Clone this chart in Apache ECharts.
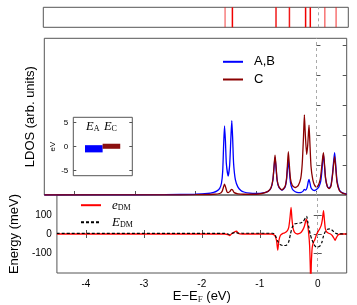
<!DOCTYPE html>
<html><head><meta charset="utf-8">
<script src="https://cdn.jsdelivr.net/npm/echarts@6/dist/echarts.min.js"></script>
<style>html,body{margin:0;padding:0;background:#fff}#c{width:357px;height:305px}</style>
</head><body><div id="c"></div>
<script>
// ---------- data ----------
const xTicks = [-4, -3, -2, -1, 0];
const ldosTicks = [1, 2, 3, 4, 5];
const energyTicks = [-100, 0, 100];
const insetTicks = [-5, 0, 5];

// top strip: level positions (eV) and their intensity
const stripLines = [-1.52, -1.40, -0.685, -0.465, -0.20, -0.123, 0.115, 0.30];
const stripWeight = [0.5, 1, 0.9, 0.9, 1, 1, 0.55, 0.55];

// LDOS on A,B sites  [E-EF (eV), LDOS]
const ldosAB = [[-4.5,0.0],[-3.5,0.005],[-2.5,0.01],[-2.0,0.025],[-1.8,0.05],[-1.7,0.09],[-1.65,0.13],[-1.6,0.22],[-1.57,0.4],[-1.55,0.8],[-1.535,1.65],[-1.52,2.3],[-1.505,1.8],[-1.49,1.05],[-1.46,0.63],[-1.435,1.0],[-1.415,1.9],[-1.40,2.48],[-1.385,1.85],[-1.37,1.05],[-1.34,0.5],[-1.3,0.27],[-1.25,0.15],[-1.2,0.1],[-1.1,0.06],[-1.0,0.05],[-0.9,0.06],[-0.8,0.12],[-0.75,0.24],[-0.72,0.5],[-0.70,0.95],[-0.685,1.25],[-0.67,0.95],[-0.65,0.48],[-0.62,0.25],[-0.57,0.16],[-0.52,0.26],[-0.495,0.5],[-0.48,0.85],[-0.465,1.17],[-0.45,0.85],[-0.43,0.42],[-0.40,0.2],[-0.35,0.11],[-0.30,0.08],[-0.25,0.09],[-0.22,0.13],[-0.20,0.19],[-0.18,0.16],[-0.155,0.25],[-0.135,0.45],[-0.123,0.52],[-0.11,0.42],[-0.09,0.24],[-0.06,0.17],[-0.03,0.15],[0.0,0.18],[0.04,0.27],[0.07,0.45],[0.09,0.8],[0.103,1.15],[0.115,1.35],[0.13,1.05],[0.15,0.55],[0.18,0.28],[0.21,0.23],[0.24,0.33],[0.265,0.7],[0.285,1.15],[0.30,1.41],[0.315,1.1],[0.34,0.48],[0.38,0.17],[0.43,0.07],[0.5,0.03]];

// LDOS on C site
const ldosC = [[-4.5,0.0],[-2.5,0.005],[-2.0,0.01],[-1.7,0.025],[-1.6,0.05],[-1.56,0.12],[-1.535,0.28],[-1.52,0.36],[-1.505,0.28],[-1.48,0.11],[-1.46,0.08],[-1.43,0.12],[-1.415,0.17],[-1.40,0.19],[-1.385,0.16],[-1.36,0.08],[-1.3,0.04],[-1.2,0.025],[-1.0,0.025],[-0.9,0.05],[-0.8,0.12],[-0.75,0.25],[-0.72,0.52],[-0.70,1.0],[-0.685,1.33],[-0.67,1.0],[-0.65,0.5],[-0.62,0.27],[-0.57,0.17],[-0.52,0.28],[-0.495,0.55],[-0.48,1.0],[-0.465,1.44],[-0.45,1.05],[-0.43,0.55],[-0.40,0.32],[-0.35,0.25],[-0.30,0.32],[-0.26,0.55],[-0.235,1.05],[-0.215,1.9],[-0.20,2.67],[-0.185,2.05],[-0.162,1.35],[-0.145,1.65],[-0.133,2.05],[-0.123,2.33],[-0.11,1.8],[-0.09,0.95],[-0.06,0.5],[-0.03,0.32],[0.0,0.27],[0.03,0.32],[0.06,0.5],[0.08,0.8],[0.10,1.2],[0.115,1.41],[0.13,1.1],[0.15,0.58],[0.18,0.28],[0.21,0.21],[0.24,0.3],[0.265,0.65],[0.285,1.05],[0.30,1.28],[0.315,1.0],[0.34,0.42],[0.38,0.14],[0.43,0.06],[0.5,0.02]];

// e_DM (meV)
const eDM = [[-4.5,0],[-1.6,0],[-1.55,-3],[-1.52,-8],[-1.49,0],[-1.45,8],[-1.40,15],[-1.37,3],[-1.3,0],[-0.8,0],[-0.74,-8],[-0.71,-35],[-0.69,-84],[-0.67,-35],[-0.645,-8],[-0.6,3],[-0.575,5],[-0.53,15],[-0.5,35],[-0.48,80],[-0.46,138],[-0.445,80],[-0.425,30],[-0.40,8],[-0.35,0],[-0.30,5],[-0.26,20],[-0.23,40],[-0.21,65],[-0.195,77],[-0.175,50],[-0.155,0],[-0.14,-60],[-0.13,-150],[-0.12,-260],[-0.11,-150],[-0.095,-70],[-0.07,-40],[-0.05,-30],[-0.03,-10],[0.0,10],[0.03,25],[0.06,45],[0.08,75],[0.10,121],[0.115,75],[0.13,30],[0.15,12],[0.18,5],[0.22,0],[0.25,-8],[0.28,-22],[0.30,-33],[0.32,-20],[0.35,-5],[0.4,0],[0.5,0]];

// E_DM (meV)
const EDM = [[-4.5,3],[-1.6,3],[-1.55,0],[-1.52,-3],[-1.48,3],[-1.42,8],[-1.38,5],[-1.3,4],[-0.78,4],[-0.75,2],[-0.72,-15],[-0.69,-38],[-0.65,-55],[-0.6,-60],[-0.54,-58],[-0.5,-40],[-0.47,0],[-0.44,35],[-0.40,52],[-0.35,55],[-0.30,57],[-0.25,65],[-0.21,85],[-0.19,92],[-0.17,60],[-0.15,30],[-0.13,0],[-0.10,-30],[-0.07,-50],[-0.04,-65],[0.0,-68],[0.04,-62],[0.07,-45],[0.10,-10],[0.13,12],[0.17,25],[0.21,27],[0.25,20],[0.30,6],[0.34,1],[0.5,0]];

// inset: level energies (eV), low/high ends of each bar
const insetNames = ['A', 'C'];
const insetLow = [-1.25, -0.5];
const insetHigh = [0.25, 0.55];

// ---------- styles ----------
const FONT = 'Liberation Sans';
const SERIF = 'Liberation Serif';
const AXC = '#555';
const BLUE = '#0000ff', DRED = '#8b0000', RED = '#ff0000';
const insetColors = [BLUE, '#8b1010'];

const tickIn = (vals, len) => ({show: true, inside: true, length: len || 4, customValues: vals, lineStyle: {color: AXC, width: 1}});
const noLine = {show: false};
const noSplit = {show: false};

const zeroLine = {
  symbol: 'none', silent: true, label: {show: false},
  lineStyle: {color: '#aaa', type: [3, 3], width: 1},
  data: [{xAxis: 0}]
};

const option = {
  animation: false,
  backgroundColor: '#fff',
  textStyle: {fontFamily: FONT},
  grid: [
    {left: 43.3, top: 7.3, width: 305, height: 20, show: true, borderColor: AXC, borderWidth: 1},
    {left: 44.3, top: 38.3, width: 302.4, height: 156.7, show: true, borderColor: AXC, borderWidth: 1},
    {left: 44.3, top: 195, width: 302.4, height: 78.3, show: true, borderColor: AXC, borderWidth: 1},
    {left: 73.3, top: 117.3, width: 59, height: 58.4, show: true, borderColor: AXC, borderWidth: 1, backgroundColor: '#fff'}
  ],
  xAxis: [
    {type: 'value', gridIndex: 0, min: -4.5, max: 0.5, show: false},
    {type: 'value', gridIndex: 1, min: -4.5, max: 0.5, position: 'bottom', axisLine: noLine, splitLine: noSplit,
      axisTick: tickIn(xTicks), axisLabel: {show: false}},
    {type: 'value', gridIndex: 2, min: -4.5, max: 0.5, position: 'bottom', axisLine: noLine, splitLine: noSplit,
      axisTick: tickIn(xTicks),
      axisLabel: {show: true, customValues: xTicks, margin: 6, fontSize: 10, color: '#000', fontFamily: FONT},
      name: '{n|E\u2212E}{s|F}{n| (eV)}', nameLocation: 'middle', nameGap: 16,
      nameTextStyle: {rich: {
        n: {fontSize: 13, fontFamily: FONT, color: '#000'},
        s: {fontSize: 9, fontFamily: SERIF, color: '#333', padding: [6, 0, 0, 0]}
      }}},
    {type: 'value', gridIndex: 2, min: -4.5, max: 0.5, position: 'top', axisLine: noLine, splitLine: noSplit,
      axisTick: tickIn(xTicks), axisLabel: {show: false}},
    {type: 'value', gridIndex: 3, min: 0, max: 3.35, show: false}
  ],
  yAxis: [
    {type: 'value', gridIndex: 0, min: 0, max: 1, show: false},
    {type: 'value', gridIndex: 1, min: 0, max: 5.22, position: 'left', axisLine: noLine, splitLine: noSplit,
      axisTick: tickIn(ldosTicks), axisLabel: {show: false},
      name: 'LDOS (arb. units)', nameLocation: 'middle', nameGap: 7,
      nameTextStyle: {fontSize: 13, color: '#000', fontFamily: FONT}},
    {type: 'value', gridIndex: 1, min: 0, max: 5.22, position: 'right', axisLine: noLine, splitLine: noSplit,
      axisTick: tickIn(ldosTicks), axisLabel: {show: false}},
    {type: 'value', gridIndex: 2, min: -203, max: 203, position: 'left', axisLine: noLine, splitLine: noSplit,
      axisTick: tickIn(energyTicks),
      axisLabel: {show: true, customValues: energyTicks, margin: 5, fontSize: 10, color: '#000', fontFamily: FONT},
      name: 'Energy (meV)', nameLocation: 'middle', nameGap: 31,
      nameTextStyle: {fontSize: 13, color: '#000', fontFamily: FONT}},
    {type: 'value', gridIndex: 2, min: -203, max: 203, position: 'right', axisLine: noLine, splitLine: noSplit,
      axisTick: tickIn(energyTicks), axisLabel: {show: false}},
    {type: 'value', gridIndex: 3, min: -6.1, max: 6.05, position: 'left', axisLine: noLine, splitLine: noSplit,
      axisTick: tickIn(insetTicks, 3),
      axisLabel: {show: true, customValues: insetTicks, margin: 5, fontSize: 8, color: '#000', fontFamily: FONT},
      name: 'eV', nameLocation: 'middle', nameGap: 13,
      nameTextStyle: {fontSize: 8, color: '#000', fontFamily: FONT}},
    {type: 'value', gridIndex: 3, min: -6.1, max: 6.05, position: 'right', axisLine: noLine, splitLine: noSplit,
      axisTick: tickIn(insetTicks, 3), axisLabel: {show: false}}
  ],
  legend: [
    {data: ['A,B', 'C'], orient: 'vertical', left: 222, top: 55.3, padding: 0,
      itemWidth: 20, itemHeight: 14, itemGap: 4.7,
      itemStyle: {opacity: 0},
      textStyle: {fontSize: 13, color: '#000', fontFamily: FONT, padding: [0, 0, 0, 6]}},
    {data: ['e_DM', 'E_DM'], orient: 'vertical', left: 80, top: 198.7, padding: 0,
      itemWidth: 20, itemHeight: 14, itemGap: 3.6,
      itemStyle: {opacity: 0},
      formatter: n => n === 'e_DM' ? '{i|e}{s|DM}' : '{i|E}{s|DM}',
      textStyle: {padding: [0, 0, 0, 6], rich: {
        i: {fontSize: 13, fontFamily: SERIF, fontStyle: 'italic', color: '#000'},
        s: {fontSize: 8, fontFamily: SERIF, color: '#000', padding: [6, 0, 0, 0]}
      }}}
  ],
  series: [
    {
      type: 'custom', xAxisIndex: 0, yAxisIndex: 0,
      data: stripLines.map((x, i) => [x, stripWeight[i]]),
      renderItem: (params, api) => {
        const a = api.coord([api.value(0), 0]);
        const b = api.coord([api.value(0), 1]);
        return {type: 'line', shape: {x1: a[0], y1: a[1], x2: b[0], y2: b[1]},
          style: {stroke: 'rgba(240,0,0,' + api.value(1) + ')', lineWidth: 1.5}};
      },
      markLine: zeroLine
    },
    {
      name: 'A,B', type: 'line', xAxisIndex: 1, yAxisIndex: 1, data: ldosAB,
      symbol: 'none', smooth: 0.2, lineStyle: {color: BLUE, width: 1.3}, itemStyle: {color: BLUE},
      markLine: zeroLine
    },
    {
      name: 'C', type: 'line', xAxisIndex: 1, yAxisIndex: 1, data: ldosC,
      symbol: 'none', smooth: 0.2, lineStyle: {color: DRED, width: 1.3}, itemStyle: {color: DRED}
    },
    {
      name: 'e_DM', type: 'line', xAxisIndex: 2, yAxisIndex: 3, data: eDM,
      symbol: 'none', smooth: 0.2, clip: true, lineStyle: {color: RED, width: 1.3}, itemStyle: {color: RED},
      markLine: zeroLine
    },
    {
      name: 'E_DM', type: 'line', xAxisIndex: 2, yAxisIndex: 3, data: EDM,
      symbol: 'none', smooth: 0.2, clip: true, lineStyle: {color: '#000', width: 1.2, type: [3, 2]}, itemStyle: {color: '#000'}
    },
    {
      type: 'custom', xAxisIndex: 4, yAxisIndex: 5,
      data: insetNames.map((n, i) => [i, insetLow[i], insetHigh[i]]),
      renderItem: (params, api) => {
        const i = api.value(0);
        const x0 = 0.665 + i, x1 = x0 + 1;
        const p0 = api.coord([x0, api.value(2)]);
        const p1 = api.coord([x1, api.value(1)]);
        const t = api.coord([(x0 + x1) / 2, 4.1]);
        return {type: 'group', children: [
          {type: 'rect', shape: {x: p0[0], y: p0[1], width: p1[0] - p0[0], height: p1[1] - p0[1]},
            style: {fill: insetColors[i]}},
          {type: 'text', x: t[0] - 1, y: t[1],
            style: {text: '{i|E}{s|' + insetNames[i] + '}', align: 'center', verticalAlign: 'middle',
              rich: {
                i: {fontSize: 12.5, fontFamily: SERIF, fontStyle: 'italic', fill: '#000'},
                s: {fontSize: 8, fontFamily: SERIF, fill: '#000', padding: [5, 0, 0, 0]}
              }}}
        ]};
      }
    }
  ]
};

const chart = echarts.init(document.getElementById('c'), null, {renderer: 'canvas'});
chart.setOption(option);
</script>
</body></html>
